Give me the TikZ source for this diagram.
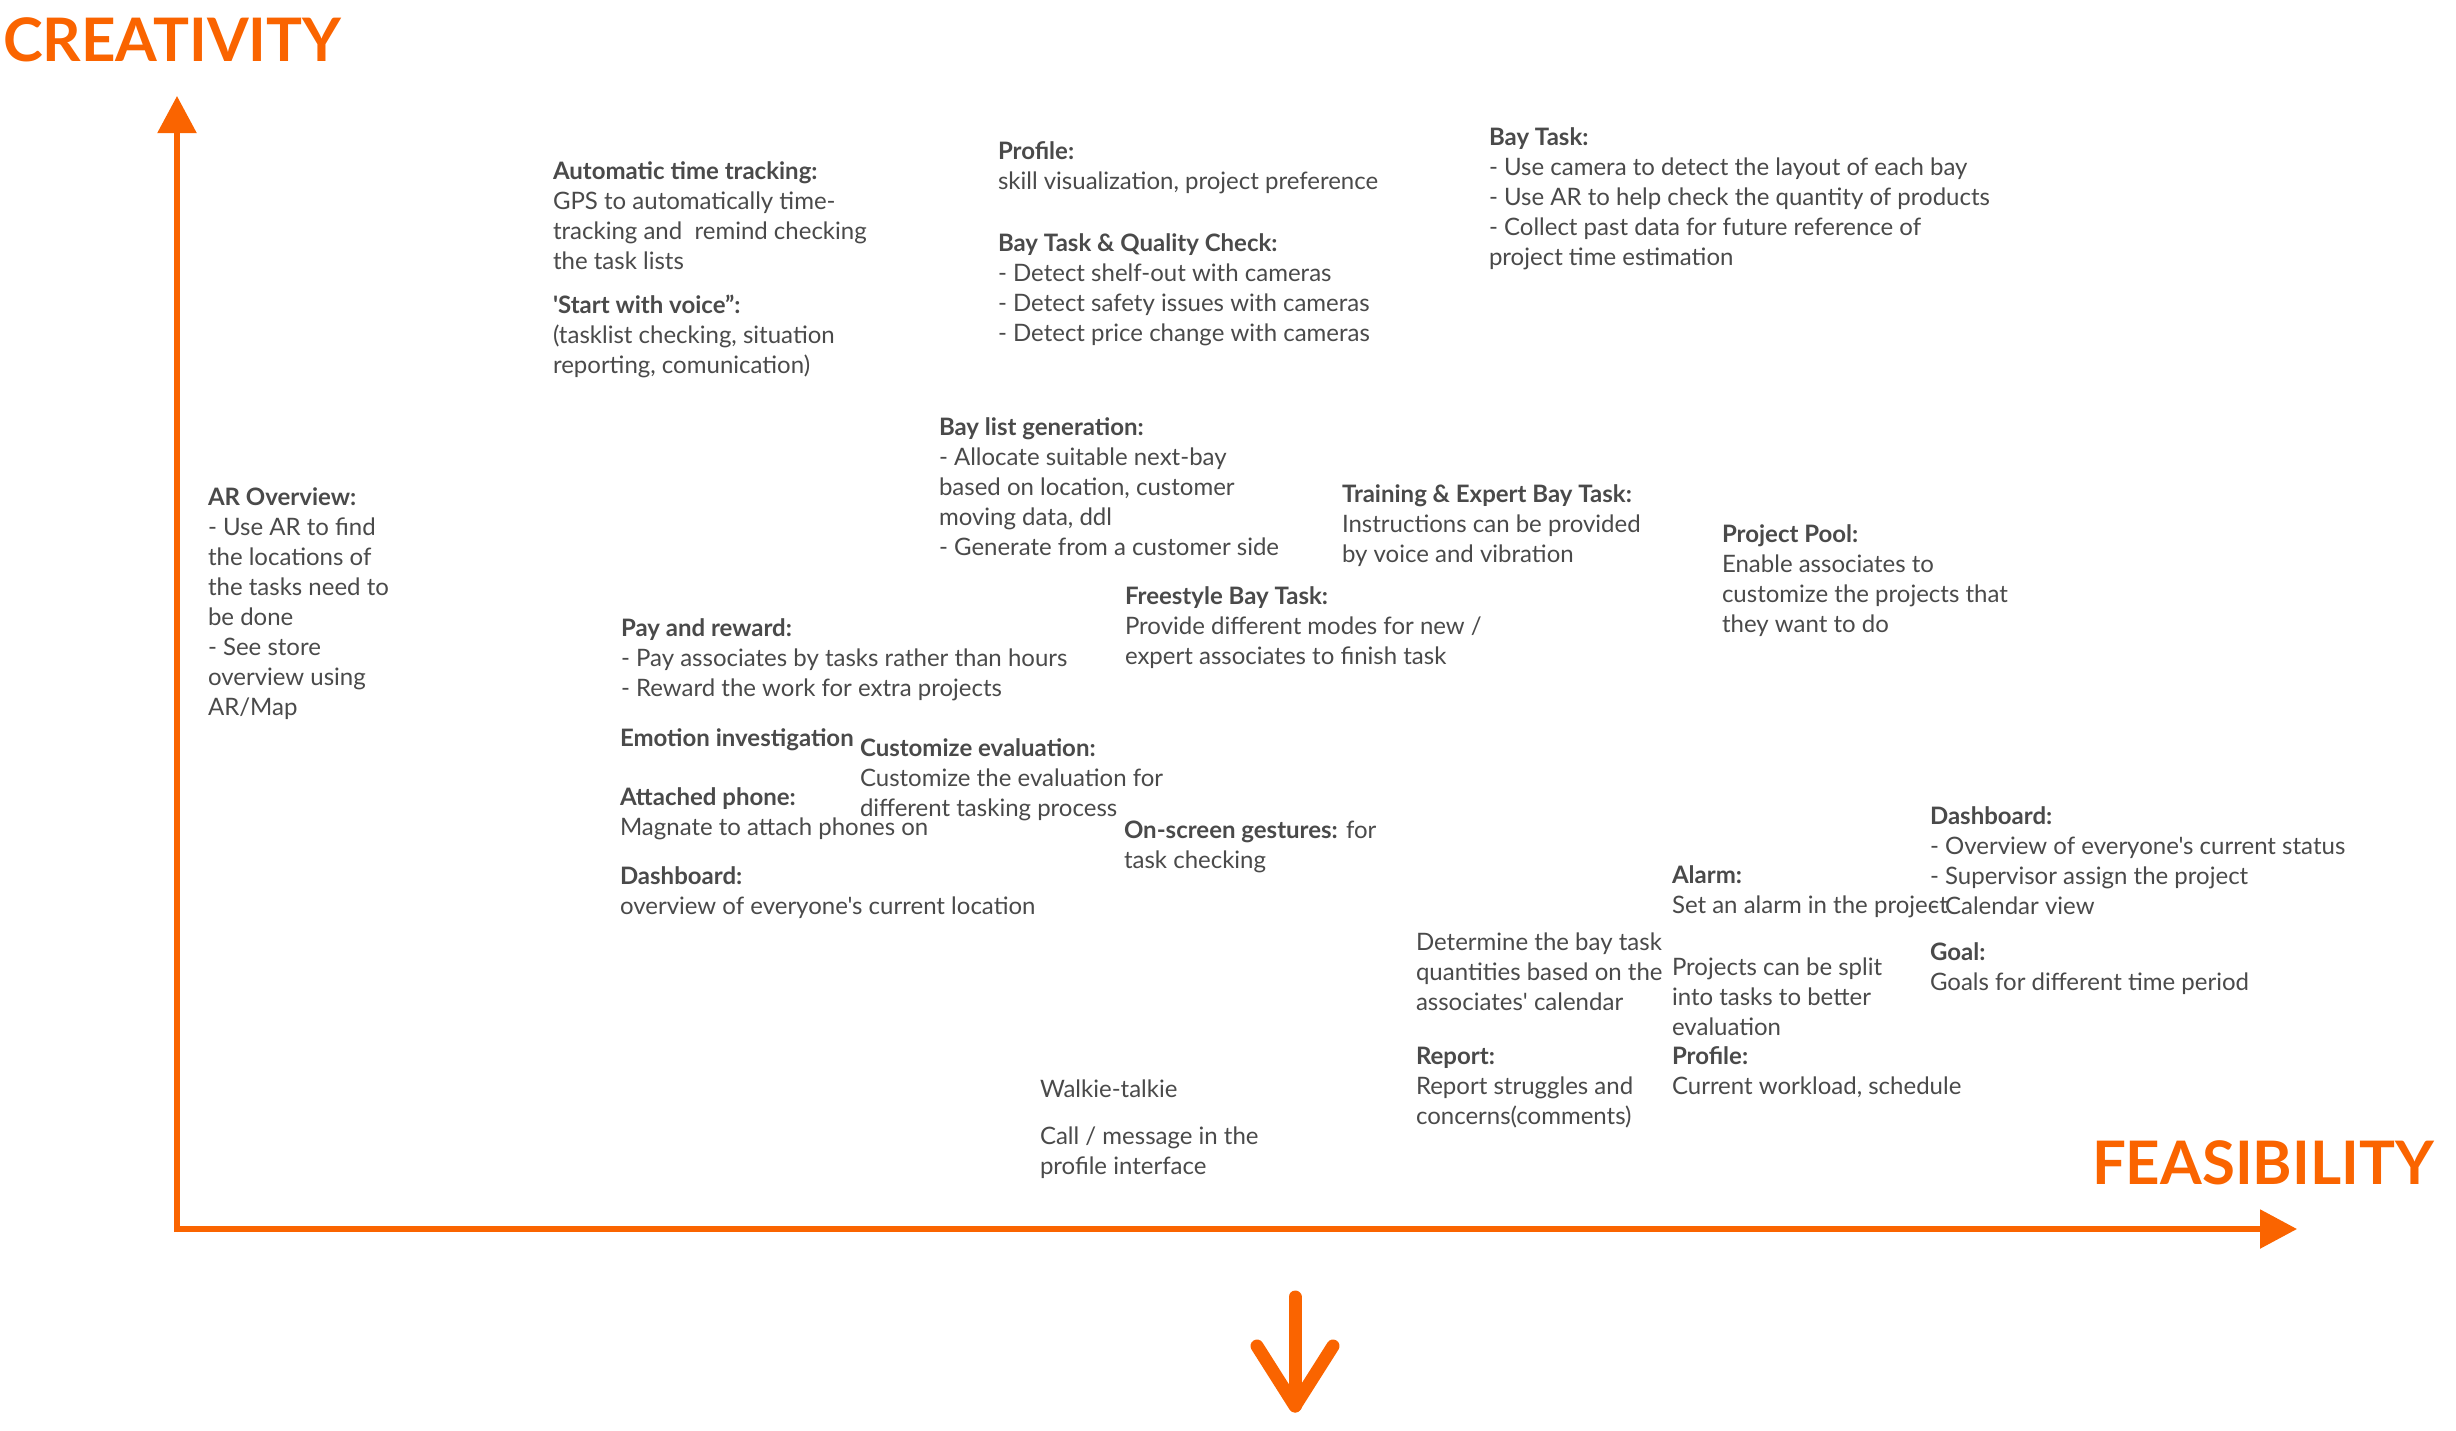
\documentclass[tikz,border=0pt]{standalone}
\usepackage{fontspec}
\setmainfont{Lato}[Ligatures=TeXOff]
\usetikzlibrary{arrows.meta}
\definecolor{axisorange}{HTML}{FA6400}
\definecolor{txtgray}{HTML}{4A4A4A}
\newcommand\blk[1]{\begin{tabular}[t]{@{}l@{}}#1\end{tabular}}
\tikzset{
  txt/.style={anchor=base west, inner sep=0pt, outer sep=0pt, text=txtgray,
    font=\fontsize{24}{30}\selectfont},
  axislabel/.style={anchor=base west, inner sep=0pt, outer sep=0pt, text=axisorange,
    font=\fontsize{60}{70}\selectfont\bfseries},
  axisline/.style={draw=axisorange, line width=5.5pt,
    -{Triangle[length=37pt,width=38pt]}, fill=axisorange},
  downarrow/.style={draw=axisorange, line width=13pt, line cap=round, line join=round}
}
\begin{document}
\begin{tikzpicture}[x=1pt,y=-1pt]
\useasboundingbox[fill=white] (0,0) rectangle (2456,1430);
% axes
\coordinate (origin) at (177,1229);
\coordinate (ybot) at (177,1232);
\coordinate (ytip) at (177,96);
\coordinate (xstart) at (174,1229);
\coordinate (xtip) at (2297,1229);
\draw[axisline] (ybot) -- (ytip);
\draw[axisline] (xstart) -- (xtip);
\node[axislabel] (creativity) at (3,61) {CREATIVITY};
\node[axislabel] (feasibility) at (2092,1184) {FEASIBILITY};
% down arrow
\coordinate (dtop) at (1295,1297);
\coordinate (dtip) at (1295,1406);
\coordinate (dleft) at (1257,1346);
\coordinate (dright) at (1333,1346);
\draw[downarrow] (dtop) -- (dtip);
\draw[downarrow] (dleft) -- (dtip) -- (dright);
% text blocks
\begin{scope}[shift={(0,2)}]
\node[txt] (auto) at (553,177) {\blk{\textbf{Automatic time tracking:}\\ GPS to automatically time-\\ tracking and\ \ remind checking\\ the task lists}};
\node[txt] (voice) at (553,311) {\blk{\textbf{'Start with voice”:}\\ (tasklist checking, situation\\ reporting, comunication)}};
\node[txt] (profileA) at (998,157) {\blk{\textbf{Profile:}\\ skill visualization, project preference}};
\node[txt] (bayqc) at (998,249) {\blk{\textbf{Bay Task \& Quality Check:}\\ - Detect shelf-out with cameras\\ - Detect safety issues with cameras\\ - Detect price change with cameras}};
\node[txt] (baytask) at (1489,143) {\blk{\textbf{Bay Task:}\\ - Use camera to detect the layout of each bay\\ - Use AR to help check the quantity of products\\ - Collect past data for future reference of\\ project time estimation}};
\node[txt] (baylist) at (939,433) {\blk{\textbf{Bay list generation:}\\ - Allocate suitable next-bay\\ based on location, customer\\ moving data, ddl\\ - Generate from a customer side}};
\node[txt] (training) at (1342,500) {\blk{\textbf{Training \& Expert Bay Task:}\\ Instructions can be provided\\ by voice and vibration}};
\node[txt] (pool) at (1722,540) {\blk{\textbf{Project Pool:}\\ Enable associates to\\ customize the projects that\\ they want to do}};
\node[txt] (arov) at (208,503) {\blk{\textbf{AR Overview:}\\ - Use AR to find\\ the locations of\\ the tasks need to\\ be done\\ - See store\\ overview using\\ AR/Map}};
\node[txt] (freestyle) at (1125,602) {\blk{\textbf{Freestyle Bay Task:}\\ Provide different modes for new /\\ expert associates to finish task}};
\node[txt] (pay) at (621,634) {\blk{\textbf{Pay and reward:}\\ - Pay associates by tasks rather than hours\\ - Reward the work for extra projects}};
\node[txt] (emotion) at (620,744) {\textbf{Emotion investigation}};
\node[txt] (custom) at (860,754) {\blk{\textbf{Customize evaluation:}\\ Customize the evaluation for\\ different tasking process}};
\node[txt] (attached) at (620,803) {\blk{\textbf{Attached phone:}\\ Magnate to attach phones on}};
\node[txt] (gestures) at (1124,836) {\blk{\textbf{On-screen gestures:} for\\ task checking}};
\node[txt] (dashA) at (620,882) {\blk{\textbf{Dashboard:}\\ overview of everyone's current location}};
\node[txt] (dashB) at (1930,822) {\blk{\textbf{Dashboard:}\\ - Overview of everyone's current status\\ - Supervisor assign the project\\ - Calendar view}};
\node[txt] (alarm) at (1672,881) {\blk{\textbf{Alarm:}\\ Set an alarm in the project}};
\node[txt] (determine) at (1416,948) {\blk{Determine the bay task\\ quantities based on the\\ associates' calendar}};
\node[txt] (split) at (1672,973) {\blk{Projects can be split\\ into tasks to better\\ evaluation}};
\node[txt] (goal) at (1930,958) {\blk{\textbf{Goal:}\\ Goals for different time period}};
\node[txt] (report) at (1416,1062) {\blk{\textbf{Report:}\\ Report struggles and\\ concerns(comments)}};
\node[txt] (profileB) at (1672,1062) {\blk{\textbf{Profile:}\\ Current workload, schedule}};
\node[txt] (walkie) at (1040,1095) {Walkie-talkie};
\node[txt] (call) at (1040,1142) {\blk{Call / message in the\\ profile interface}};
\end{scope}
\end{tikzpicture}
\end{document}
